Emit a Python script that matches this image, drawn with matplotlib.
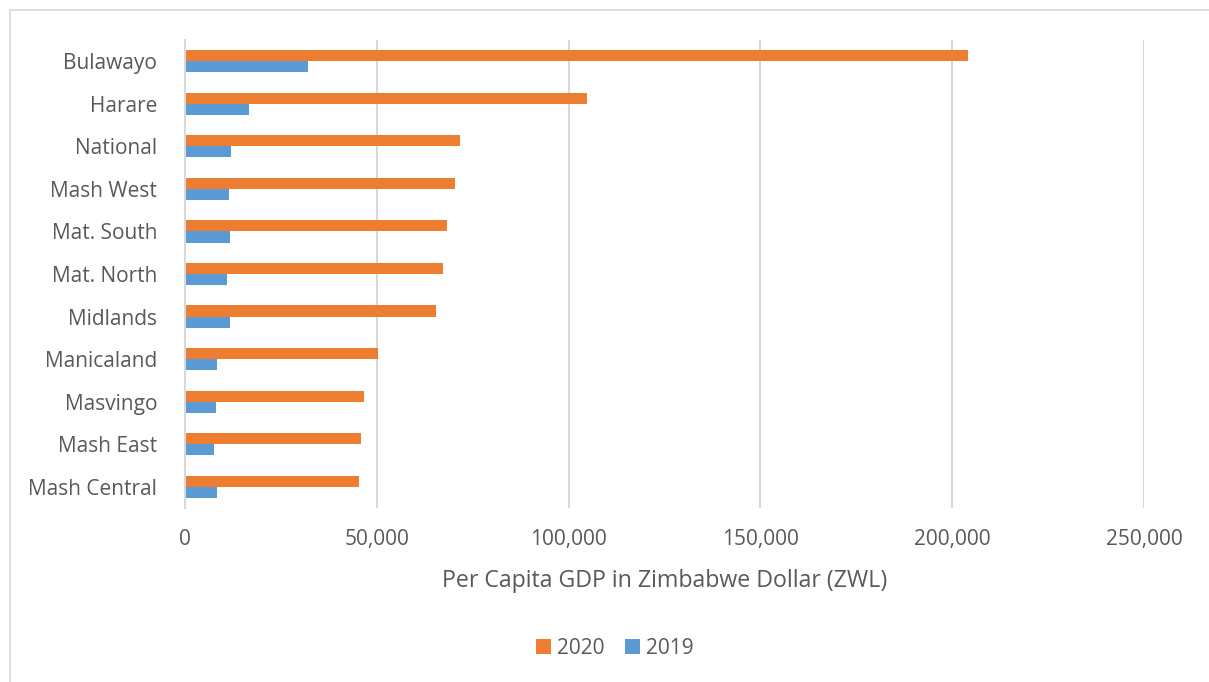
import matplotlib.pyplot as plt
from matplotlib.patches import Rectangle
from matplotlib.ticker import FuncFormatter

regions = ["Bulawayo", "Harare", "National", "Mash West", "Mat. South", "Mat. North",
           "Midlands", "Manicaland", "Masvingo", "Mash East", "Mash Central"]
gdp_2020 = [204000, 104700, 71600, 70500, 68200, 67200, 65400, 50300, 46700, 45900, 45400]
gdp_2019 = [32000, 16600, 11900, 11400, 11700, 11000, 11800, 8300, 8100, 7600, 8300]

plt.rcParams['font.family'] = ['Open Sans', 'DejaVu Sans']
text_color = "#595959"

fig = plt.figure(figsize=(12.09, 6.82), dpi=100)
ax = fig.add_axes([185 / 1209, 1 - 508 / 682, (1144 - 185) / 1209, (508 - 40) / 682])

# outer chart border
fig.patches.append(Rectangle((10 / 1209, -0.01), 1.2, (682 - 10) / 682 + 0.01,
                             transform=fig.transFigure, fill=False,
                             edgecolor="#d9d9d9", linewidth=1.2))

pos = list(range(len(regions)))
h = 0.26
ax.barh([p - h / 2 for p in pos], gdp_2020, height=h, color="#ed7d31", label="2020")
ax.barh([p + h / 2 for p in pos], gdp_2019, height=h, color="#5b9bd5", label="2019")

ax.set_xlim(0, 250000)
ax.set_ylim(len(regions) - 0.5, -0.5)
ax.set_yticks(pos)
ax.set_yticklabels(regions)
ax.set_xticks(range(0, 250001, 50000))
ax.xaxis.set_major_formatter(FuncFormatter(lambda v, _: f"{int(v):,}"))
ax.grid(axis="x", color="#d9d9d9", linewidth=1.5)
ax.set_axisbelow(True)
for s in ["top", "right", "bottom"]:
    ax.spines[s].set_visible(False)
ax.spines["left"].set_color("#d9d9d9")
ax.spines["left"].set_linewidth(1.5)
ax.tick_params(length=0, labelsize=15, colors=text_color)
ax.tick_params(axis="x", pad=15)
ax.tick_params(axis="y", pad=20)
ax.set_xlabel("Per Capita GDP in Zimbabwe Dollar (ZWL)", fontsize=16.7, color=text_color, labelpad=14)

leg = fig.legend(loc="center", bbox_to_anchor=(615 / 1209, 1 - 648 / 682), ncol=2, frameon=False,
                 fontsize=15, handlelength=0.7, handleheight=0.7, columnspacing=1.0, handletextpad=0.3)
for t in leg.get_texts():
    t.set_color(text_color)

fig.savefig("out.png", dpi=100)
